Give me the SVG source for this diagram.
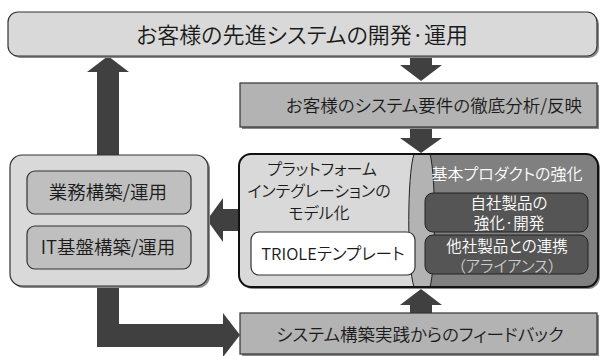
<svg xmlns="http://www.w3.org/2000/svg" width="600" height="356" viewBox="0 0 600 356">
<style>
text{font-family:"Noto Sans CJK JP","Noto Sans",sans-serif;font-feature-settings:"palt";font-weight:350;text-anchor:middle;fill:#1a1a1a}
.w{fill:#ffffff}
.box{stroke:#333;stroke-width:1.2}
.arr{fill:#404040}
.sh{fill:#8a8a8a}
</style>
<rect width="600" height="356" fill="#ffffff"/>
<g id="connectors">
<polygon class="arr" points="97,347 97,72 87,72 108,56 129,72 119,72 119,324 223,324 223,313 240,335 223,357 223,347"/>
<polygon class="arr" points="410,55 432,55 432,65 442,65 421,81 400,65 410,65"/>
<polygon class="arr" points="410,127 432,127 432,138 442,138 421,153 400,138 410,138"/>
<polygon class="arr" points="240,209 240,231 223,231 223,242 207,220 223,198 223,209"/>
<polygon class="arr" points="410,313 432,313 432,305 442,305 421,289 400,305 410,305"/>
</g>
<g id="top">
<rect class="sh" x="10" y="14" width="589" height="44" rx="10"/>
<rect class="box" x="8" y="12" width="589" height="44" rx="10" fill="#d9d9d9"/>
<text x="302" y="43" font-size="22">お客様の先進システムの開発·運用</text>
</g>
<g id="analysis">
<rect class="sh" x="242" y="85" width="357" height="44"/>
<rect class="box" x="240" y="83" width="357" height="44" fill="#b3b3b3"/>
<text x="434" y="112" font-size="17.5">お客様のシステム要件の徹底分析/反映</text>
</g>
<g id="left">
<rect class="sh" x="12" y="157" width="198" height="131" rx="12"/>
<rect class="box" x="10" y="155" width="198" height="131" rx="12" fill="#d9d9d9"/>
<rect class="box" x="27" y="171" width="164" height="43" rx="8" fill="#bfbfbf"/>
<text x="108" y="199" font-size="18.5">業務構築/運用</text>
<rect class="box" x="27" y="226" width="164" height="43" rx="8" fill="#bfbfbf"/>
<text x="108" y="254" font-size="18.5">IT基盤構築/運用</text>
</g>
<g id="center">
<rect class="sh" x="241" y="156" width="359" height="133" rx="12"/>
<rect x="239" y="154" width="359" height="133" rx="12" fill="#808080"/>
<path d="M251,154 H414 V287 H251 A12,12 0 0 1 239,275 V166 A12,12 0 0 1 251,154 Z" fill="#d9d9d9"/>
<path d="M414,154 C407,175 407,266 414,287 H430 C436,266 436,175 430,154 Z" fill="#b3b3b3" stroke="#222" stroke-width="1"/>
<rect x="239" y="154" width="359" height="133" rx="12" fill="none" stroke="#111" stroke-width="2"/>
<text x="322" y="175" font-size="16">プラットフォーム</text>
<text x="319" y="197" font-size="16">インテグレーションの</text>
<text x="319" y="219" font-size="16">モデル化</text>
<rect class="box" x="251" y="232" width="164" height="43" rx="8" fill="#ffffff"/>
<text x="333" y="260" font-size="16.5">TRIOLEテンプレート</text>
<text class="w" x="507" y="180" font-size="16">基本プロダクトの強化</text>
<rect x="425" y="193" width="163" height="39" rx="8" fill="#555555" stroke="#222" stroke-width="1"/>
<text class="w" x="509" y="209" font-size="15.5">自社製品の</text>
<text class="w" x="509" y="229" font-size="15.5">強化·開発</text>
<rect x="425" y="235" width="163" height="39" rx="8" fill="#555555" stroke="#222" stroke-width="1"/>
<text class="w" x="507" y="252" font-size="15.5">他社製品との連携</text>
<text x="507" y="272" font-size="15.5" style="fill:#cccccc">（アライアンス）</text>
</g>
<g id="feedback">
<rect class="sh" x="242" y="315" width="357" height="41"/>
<rect class="box" x="240" y="313" width="357" height="41" fill="#b3b3b3"/>
<text x="420" y="341" font-size="17.5">システム構築実践からのフィードバック</text>
</g>
</svg>
